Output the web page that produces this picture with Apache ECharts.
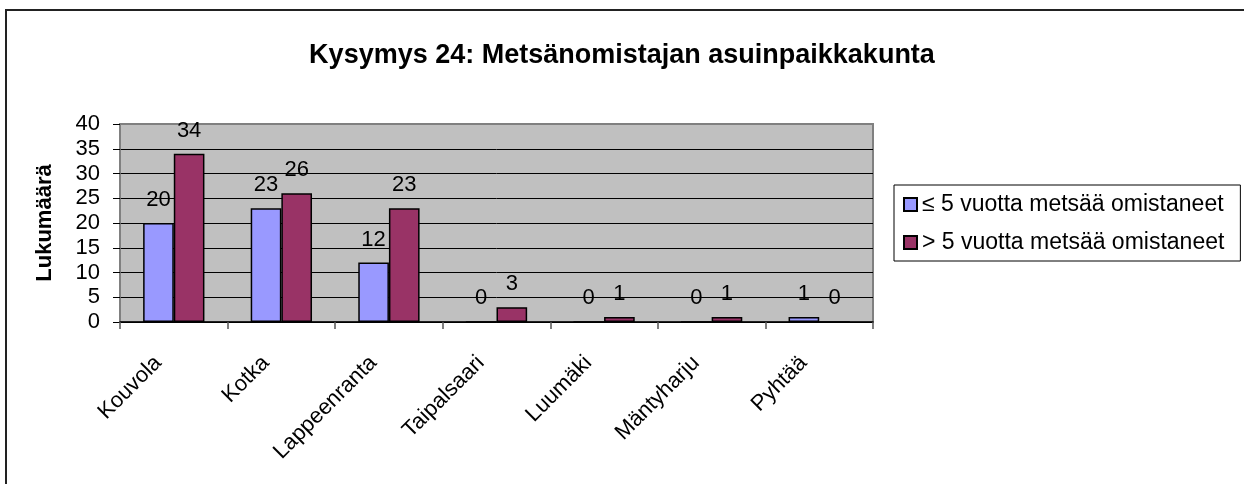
<!DOCTYPE html>
<html>
<head>
<meta charset="utf-8">
<script src="https://cdn.jsdelivr.net/npm/echarts@6/dist/echarts.min.js"></script>
<style>html,body{margin:0;padding:0;background:#fff}#c{width:1244px;height:484px}</style>
</head>
<body>
<div id="c"></div>
<script>
const titleText = 'Kysymys 24: Metsänomistajan asuinpaikkakunta';
const yAxisName = 'Lukumäärä';
const categories = ['Kouvola', 'Kotka', 'Lappeenranta', 'Taipalsaari', 'Luumäki', 'Mäntyharju', 'Pyhtää'];
const seriesNames = ['≤ 5 vuotta metsää omistaneet', '> 5 vuotta metsää omistaneet'];
const shortOwners = [20, 23, 12, 0, 0, 0, 1];
const longOwners = [34, 26, 23, 3, 1, 1, 0];
const yTicks = [0, 5, 10, 15, 20, 25, 30, 35, 40];

const FONT = '"Liberation Sans", Arial, sans-serif';
const chart = echarts.init(document.getElementById('c'), null, {renderer: 'canvas'});
const splitColors = yTicks.map((v, i) => i === yTicks.length - 1 ? '#808080' : '#000');

chart.setOption({
  animation: false,
  backgroundColor: '#fff',
  graphic: [{
    type: 'rect', shape: {x: 6, y: 10, width: 1400, height: 700},
    style: {fill: 'none', stroke: '#222', lineWidth: 2}, silent: true, z: 100
  }],
  title: {
    text: titleText, left: 'center', top: 37,
    textStyle: {fontFamily: FONT, fontSize: 27, fontWeight: 'bold', color: '#000'}
  },
  legend: {
    orient: 'vertical', left: 894, top: 185,
    padding: [8, 16, 7, 9], itemGap: 15,
    itemWidth: 13, itemHeight: 13,
    borderColor: '#000', borderWidth: 1, backgroundColor: '#fff',
    textStyle: {fontFamily: FONT, fontSize: 23, color: '#000'},
    icon: 'rect',
    data: seriesNames
  },
  grid: {
    left: 120, right: 371, top: 124, bottom: 162,
    show: true, backgroundColor: '#C0C0C0', borderColor: '#808080', borderWidth: 2
  },
  xAxis: {
    type: 'category', data: categories,
    axisLine: {lineStyle: {color: '#000', width: 1.5}},
    axisTick: {show: true, alignWithLabel: false, length: 7, lineStyle: {color: '#555', width: 1.5}},
    axisLabel: {rotate: 45, margin: 22, padding: [0, 22, 0, 0], fontFamily: FONT, fontSize: 22, color: '#000', interval: 0}
  },
  yAxis: {
    type: 'value', min: 0, max: 40, interval: 5,
    name: yAxisName, nameLocation: 'middle', nameGap: 64,
    nameTextStyle: {fontFamily: FONT, fontSize: 22, fontWeight: 'bold', color: '#000'},
    axisLine: {show: true, lineStyle: {color: '#808080', width: 1.5}},
    axisTick: {show: true, length: 7, lineStyle: {color: '#000', width: 1}},
    axisLabel: {fontFamily: FONT, fontSize: 22, color: '#000', margin: 20},
    splitLine: {show: true, lineStyle: {color: splitColors, width: 1}}
  },
  series: [
    {
      name: seriesNames[0], type: 'bar', data: shortOwners,
      barGap: '0%', barCategoryGap: '43%',
      itemStyle: {color: '#9999FF', borderColor: '#000', borderWidth: 1.5},
      label: {show: true, position: 'top', distance: 12, fontFamily: FONT, fontSize: 22, color: '#000'}
    },
    {
      name: seriesNames[1], type: 'bar', data: longOwners,
      barGap: '0%', barCategoryGap: '43%',
      itemStyle: {color: '#993366', borderColor: '#000', borderWidth: 1.5},
      label: {show: true, position: 'top', distance: 12, fontFamily: FONT, fontSize: 22, color: '#000'}
    }
  ]
});
</script>
</body>
</html>
